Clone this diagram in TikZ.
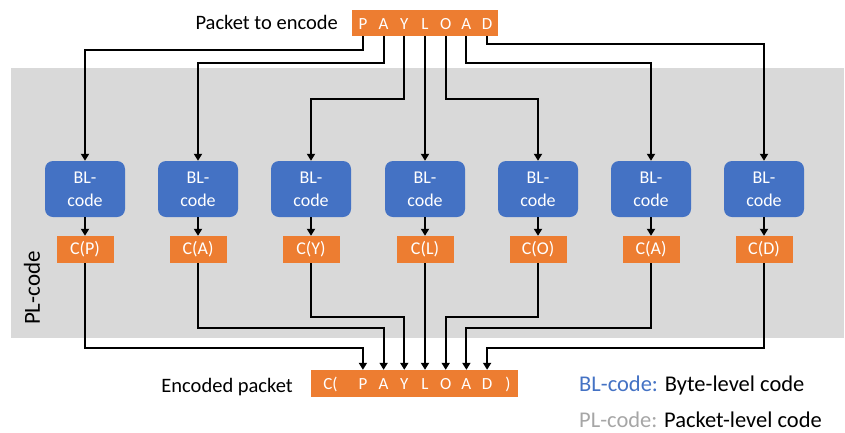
\documentclass[tikz,border=0pt]{standalone}
\usepackage{fontspec}
\setmainfont{Carlito}
\usetikzlibrary{arrows.meta}
\definecolor{accorange}{HTML}{ED7D31}
\definecolor{accblue}{HTML}{4472C4}
\definecolor{panelgray}{HTML}{D9D9D9}
\definecolor{legendgray}{HTML}{A6A6A6}

\begin{document}
\begin{tikzpicture}[x=1pt,y=-1pt,
  wire/.style={line width=1.9pt, black},
  arr/.style={wire, -{Triangle[width=8pt,length=7pt]}},
  blbox/.style={fill=accblue, rounded corners=8pt, minimum width=80pt,
    minimum height=56pt, text=white, font=\fontsize{18}{23}\selectfont,
    align=center, inner sep=0pt},
  cbox/.style={fill=accorange, minimum width=57pt, minimum height=27pt,
    text=white, font=\fontsize{18}{20}\selectfont, inner sep=0pt},
  srcbox/.style={fill=accorange, inner sep=0pt},
  glyph/.style={text=white, font=\fontsize{17}{17}\selectfont, inner sep=0pt, anchor=base},
  txt/.style={font=\fontsize{20.5}{24}\selectfont, inner sep=0pt},
  legend/.style={font=\fontsize{22.5}{26}\selectfont, inner sep=0pt, anchor=base west}]

\useasboundingbox (0,0) rectangle (845,432);

% packet-level code panel
\fill[panelgray] (11,68) rectangle (844,338);
\node[txt, rotate=90, font=\fontsize{23}{26}\selectfont] (pl) at (32,288) {PL-code};

% packet to encode
\node[srcbox, minimum width=146pt, minimum height=26pt] (src) at (425,23) {};
\node[txt, anchor=base east] (srclbl) at (338,29) {Packet to encode};
\foreach \ch [count=\i] in {P,A,Y,L,O,A,D}
  \node[glyph] (t\i) at ({425+20.7*(\i-4)},29) {\ch};

% encoded packet
\node[srcbox, minimum width=207pt, minimum height=27pt] (dst) at (414.5,383.5) {};
\node[txt, anchor=base east] (dstlbl) at (293,392) {Encoded packet};
\node[glyph, anchor=base] (bopen) at (330.5,389.5) {C(};
\node[glyph, anchor=base] (bclose) at (508,389.5) {)};
\foreach \ch [count=\i] in {P,A,Y,L,O,A,D}
  \node[glyph] (b\i) at ({425+20.7*(\i-4)},389.5) {\ch};

% byte-level coders and their outputs
\foreach \cx [count=\i] in {85,198,311,425,538,651,764} {
  \node[blbox] (bl\i) at (\cx,189) {BL-\\code};
}
\foreach \ch [count=\i] in {P,A,Y,L,O,A,D} {
  \node[cbox] (c\i) at (bl\i |- 0,249.5) {C(\ch)};
  \draw[arr] (bl\i) -- (c\i);
}

% bytes fanned out to the coders
\foreach \dy [count=\i] in {14,27,63,0,63,27,8}
  \draw[arr] (src.south -| t\i) -- ++(0,\dy) -| (bl\i.north);

% coded bytes gathered into the encoded packet
\foreach \dy [count=\i] in {85,65,54,0,54,65,85}
  \draw[arr] (c\i.south) -- ++(0,\dy) -| (dst.north -| b\i);

% legend
\node[legend] (lg1) at (579,391) {\textcolor{accblue}{BL-code:} Byte-level code};
\node[legend] (lg2) at (579,427) {\textcolor{legendgray}{PL-code:} Packet-level code};
\end{tikzpicture}
\end{document}
